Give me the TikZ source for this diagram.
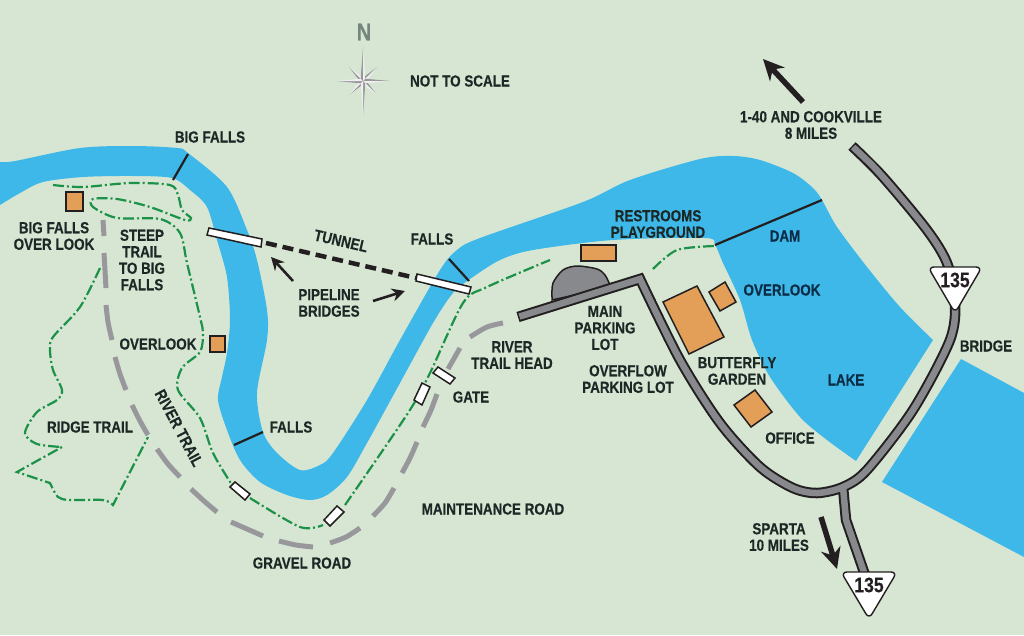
\documentclass[tikz,border=0pt]{standalone}
\usepackage{fontspec}
\setmainfont[FakeStretch=0.84, BoldFeatures={FakeBold=0.3}]{Liberation Sans}
\usepackage{tikz}
\usetikzlibrary{arrows.meta, positioning, shapes, calc}

\definecolor{landcol}{HTML}{D6E6D3}
\definecolor{watercol}{HTML}{3EB8E8}
\definecolor{trailcol}{HTML}{1C9148}
\definecolor{gravelcol}{HTML}{98989C}
\definecolor{roadcol}{HTML}{88898D}
\definecolor{edgecol}{HTML}{231F20}
\definecolor{buildcol}{HTML}{E39E58}
\definecolor{labelcol}{HTML}{1C2825}
\definecolor{lakelabelcol}{HTML}{0C2C45}
\definecolor{northcol}{HTML}{75877D}

\def\hwypath{plot[smooth, tension=0.5] coordinates {(852,146) (883,177) (927,230) (947,263) (955,300) (950,340) (913,410) (867,470) (843,487) (817,493) (793,488) (760,467) (720,423) (680,360) (640,279)} -- (518,317)}
\def\spurpath{(843,487) -- (846,520) -- (865,575)}

\begin{document}
\begin{tikzpicture}[
    x=1pt, y=-1pt,
    label/.style={text=labelcol, font=\fontsize{16}{16.5}\selectfont\bfseries, align=center, inner sep=0pt},
    lakelabel/.style={label, text=lakelabelcol},
    building/.style={draw=edgecol, fill=buildcol, line width=1.5pt, line join=miter},
    bridge/.style={draw=edgecol, fill=white, line width=1.5pt},
    falls/.style={draw=edgecol, line width=2.2pt},
    trail/.style={draw=trailcol, line width=2.2pt, dash pattern=on 11pt off 3pt on 2pt off 3pt},
    gravel/.style={draw=gravelcol, line width=5pt},
    roadedge/.style={draw=edgecol, line width=10.5pt, line join=miter},
    roadcore/.style={draw=roadcol, line width=6.5pt, line join=miter, shorten <=1.5pt, shorten >=1.5pt},
    shield/.style={draw=edgecol, fill=white, line width=1.4pt, rounded corners=6pt},
    shieldtext/.style={text=edgecol, font=\fontsize{21}{21}\selectfont\bfseries, inner sep=0pt},
    bigarrow/.style={-{Stealth[length=21pt, width=20pt]}, draw=edgecol, line width=5.5pt},
    smallarrow/.style={-{Stealth[length=13pt, width=13pt]}, draw=edgecol, line width=2.6pt}
    ]
    \useasboundingbox (0,0) rectangle (1024,635);
    \fill[landcol] (0,0) rectangle (1024,635);

    % River and lake
    \fill[watercol] plot[smooth, tension=0.5] coordinates {(0,162) (15,161) (80,148) (133,146) (177,148) (188,153) (227,187) (247,230) (257,260) (267,310) (267,340) (257,393) (263,432) (277,453) (300,470) (320,465) (333,453) (367,400) (400,340) (440,270) (457,250) (480,238) (583,202) (630,180) (700,159) (733,156) (760,160) (793,173) (813,188) (822,200) (837,227) (867,267) (900,307) (933,340)}
        -- plot[smooth, tension=0.5] coordinates {(856,461) (827,440) (800,417) (770,377) (752,340) (740,300) (723,263) (715,245) (705,238) (613,240) (533,250) (500,260) (470,279) (453,293) (433,323) (400,383) (367,443) (347,477) (327,495) (310,500) (287,495) (260,482) (240,460) (227,430) (218,400) (222,377) (227,353) (230,320) (227,277) (217,240) (207,207) (190,190) (172,178) (133,176) (83,177) (43,182) (20,193) (0,205)} -- cycle;
    \fill[watercol] (961,359) -- (1024,393) -- (1024,557) -- (882,482) -- cycle;

    % Falls and dam
    \draw[falls] (188,154) -- (173,180);
    \draw[falls] (449,259) -- (469,281);
    \draw[falls] (234,445) -- (263,432);
    \draw[falls] (715,245) -- (822,200);

    % Gravel road
    \foreach \ax/\ay/\bx/\by in {103/220/104/236, 104/253/106/288, 448/369/460/348}
        \draw[gravel] (\ax,\ay) -- (\bx,\by);
    \draw[gravel] plot[smooth] coordinates {(106,305) (108,322) (112,340)};
    \draw[gravel] plot[smooth] coordinates {(115,357) (120,374) (126,390)};
    \draw[gravel] plot[smooth] coordinates {(132,405) (140,421) (148,435)};
    \draw[gravel] plot[smooth] coordinates {(157,449) (168,464) (180,477)};
    \draw[gravel] plot[smooth] coordinates {(191,489) (204,501) (217,512)};
    \draw[gravel] plot[smooth] coordinates {(231,522) (247,529) (263,536)};
    \draw[gravel] plot[smooth] coordinates {(279,541) (296,545) (313,547)};
    \draw[gravel] plot[smooth] coordinates {(330,543) (346,537) (360,528)};
    \draw[gravel] plot[smooth] coordinates {(373,516) (385,503) (394,488)};
    \draw[gravel] plot[smooth] coordinates {(402,473) (410,458) (417,442)};
    \draw[gravel] plot[smooth] coordinates {(423,427) (431,410) (437,394)};
    \draw[gravel] plot[smooth] coordinates {(470,337) (487,327) (503,323)};

    % Trails
    \draw[trail] plot[smooth, tension=0.5] coordinates {(53,185) (83,187) (130,183) (170,185) (178,195) (182,210) (191,218) (185,220) (150,207) (117,199) (93,199) (93,207) (117,218) (160,219) (180,233) (187,263) (200,317) (203,333) (200,352) (182,368) (178,390) (200,418) (213,453) (232,485)};
    \draw[trail] plot[smooth, tension=0.5] coordinates {(250,498) (300,527) (323,525)};
    \draw[trail] plot[smooth, tension=0.5] coordinates {(345,505) (408,413) (430,373) (463,303) (487,287) (550,260)};
    \draw[trail] plot[smooth, tension=0.5] coordinates {(653,269) (677,250) (715,246)};
    \draw[trail] plot[smooth, tension=0.5] coordinates {(100,268) (80,307) (53,337) (50,350) (53,370) (62,390) (57,400) (37,412) (25,433) (37,444) (62,447)} -- (17,472)
        -- plot[smooth, tension=0.5] coordinates {(50,483) (58,497) (70,500) (103,500) (113,505)} -- (148,437);

    % Pipeline bridges and tunnel
    \draw[draw=edgecol, line width=4.5pt, dash pattern=on 11pt off 6pt] (266,243) -- (416,278);
    \draw[bridge] (209,228) -- (262,239) -- (261,247) -- (207,235) -- cycle;
    \draw[bridge] (417,274) -- (471,287) -- (469,294) -- (416,281) -- cycle;

    % Gates
    \draw[bridge] (230,487) -- (235,482) -- (250,494) -- (245,500) -- cycle;
    \draw[bridge] (324,520) -- (337,506) -- (344,512) -- (330,526) -- cycle;
    \draw[bridge] (433,373) -- (438,367) -- (455,378) -- (450,384) -- cycle;
    \draw[bridge] (414,400) -- (422,383) -- (430,387) -- (422,405) -- cycle;

    % Parking lot and highway
    \draw[draw=edgecol, fill=roadcol, line width=1.5pt] (552,300) -- plot[smooth, tension=0.5] coordinates {(552,297) (553,283) (563,270) (577,266) (597,269) (605,275) (611,287)} -- cycle;
    \draw[roadedge] \hwypath;
    \draw[roadedge] \spurpath;
    \draw[roadcore] \hwypath;
    \draw[roadcore, shorten <=0pt] \spurpath;

    % Buildings
    \draw[building] (66,192) rectangle (83,211);
    \draw[building] (210,336) rectangle (225,352);
    \draw[building] (581,245) rectangle (616,261);
    \draw[building] (663,302) -- (697,286) -- (724,337) -- (689,354) -- cycle;
    \draw[building] (709,292) -- (725,282) -- (736,302) -- (720,311) -- cycle;
    \draw[building] (734,405) -- (755,390) -- (772,412) -- (751,427) -- cycle;

    % Route shields
    \draw[shield] (928,267) -- (982,267) -- (955,313) -- cycle;
    \node[shieldtext] (shieldn) at (955,280) {135};
    \draw[shield] (841,572) -- (897,572) -- (869,619) -- cycle;
    \node[shieldtext] (shields) at (869,585) {135};

    % Compass
    \begin{scope}[shift={(363,81)}]
        \foreach \ang/\len in {45/20, 135/20, 225/20, 315/20, 0/27, 90/35, 180/27, 270/34} {
            \fill[gravelcol] (0,0) -- (\ang-40:3.5) -- (\ang:\len) -- cycle;
            \fill[white!85!gravelcol] (0,0) -- (\ang+40:3.5) -- (\ang:\len) -- cycle;
        }
    \end{scope}
    \node[label, text=northcol, font=\fontsize{24}{24}\selectfont\bfseries] (north) at (364,32) {N};

    % Labels
    \node[label] (notscale) at (460,81) {NOT TO SCALE};
    \node[label] (bigfalls) at (210,137) {BIG FALLS};
    \node[label] (bigover) at (54,236) {BIG FALLS\\OVER LOOK};
    \node[label] (steep) at (142,260) {STEEP\\TRAIL\\TO BIG\\FALLS};
    \node[label, rotate=-13] (tunnel) at (341,241) {TUNNEL};
    \node[label] (fallsa) at (432,239) {FALLS};
    \node[label] (pipeline) at (329,303) {PIPELINE\\BRIDGES};
    \node[label] (overa) at (158,344) {OVERLOOK};
    \node[label] (ridge) at (90,427) {RIDGE TRAIL};
    \node[label, rotate=-62] (river) at (179,428) {RIVER TRAIL};
    \node[label] (fallsb) at (291,427) {FALLS};
    \node[label] (rest) at (658,224) {RESTROOMS\\PLAYGROUND};
    \node[lakelabel] (dam) at (785,236) {DAM};
    \node[lakelabel] (overb) at (782,290) {OVERLOOK};
    \node[label] (mainlot) at (605,328) {MAIN\\PARKING\\LOT};
    \node[label] (head) at (512,355) {RIVER\\TRAIL HEAD};
    \node[label] (gate) at (471,397) {GATE};
    \node[label] (overflow) at (628,379) {OVERFLOW\\PARKING LOT};
    \node[label] (butterfly) at (737,371) {BUTTERFLY\\GARDEN};
    \node[lakelabel] (lake) at (846,380) {LAKE};
    \node[label] (office) at (790,438) {OFFICE};
    \node[label] (bridgetxt) at (986,346) {BRIDGE};
    \node[label] (maint) at (493,509) {MAINTENANCE ROAD};
    \node[label] (gravelrd) at (302,563) {GRAVEL ROAD};
    \node[label] (sparta) at (779,537) {SPARTA\\10 MILES};
    \node[label] (cookville) at (811,125) {1-40 AND COOKVILLE\\8 MILES};

    % Arrows
    \coordinate (tipa) at (271,257);
    \coordinate (taila) at (293,281);
    \coordinate (tipb) at (405,291);
    \coordinate (tailb) at (373,301);
    \coordinate (tipc) at (763,59);
    \coordinate (tailc) at (803,102);
    \coordinate (tipd) at (837,569);
    \coordinate (taild) at (821,517);
    \draw[smallarrow] (taila) -- (tipa);
    \draw[smallarrow] (tailb) -- (tipb);
    \draw[bigarrow] (tailc) -- (tipc);
    \draw[bigarrow] (taild) -- (tipd);
\end{tikzpicture}
\end{document}
